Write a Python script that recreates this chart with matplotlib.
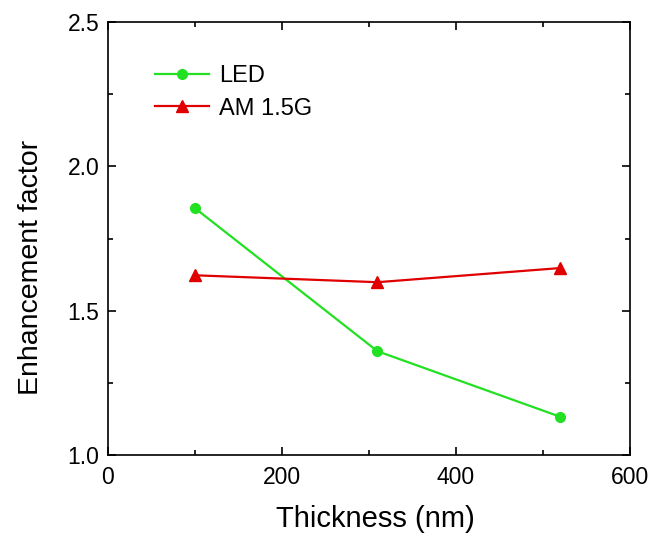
import matplotlib
matplotlib.use("Agg")
import matplotlib.pyplot as plt
from matplotlib.ticker import MultipleLocator

plt.rcParams['font.family'] = ['Liberation Sans', 'DejaVu Sans']

# thickness (nm) and enhancement factors
thickness = [100, 310, 520]
led = [1.856, 1.360, 1.133]
am15g = [1.623, 1.599, 1.648]

fig = plt.figure(figsize=(6.65, 5.38), dpi=100)
ax = fig.add_axes([0.162, 0.154, 0.785, 0.805])

ax.plot(thickness, led, color='#22e022', marker='o', markersize=7,
        linewidth=1.6, label='LED')
ax.plot(thickness, am15g, color='#e00000', marker='^', markersize=8,
        linewidth=1.6, label='AM 1.5G')

ax.set_xlim(0, 600)
ax.set_ylim(1.0, 2.5)
ax.xaxis.set_major_locator(MultipleLocator(200))
ax.xaxis.set_minor_locator(MultipleLocator(100))
ax.yaxis.set_major_locator(MultipleLocator(0.5))
ax.yaxis.set_minor_locator(MultipleLocator(0.25))
ax.yaxis.set_major_formatter(matplotlib.ticker.FormatStrFormatter('%.1f'))

ax.tick_params(which='both', direction='in', top=True, right=True)
ax.tick_params(which='major', length=6, width=1.2, labelsize=16.5)
ax.tick_params(axis='x', which='major', pad=8)
ax.tick_params(axis='y', which='major', pad=6)
ax.tick_params(which='minor', length=3.5, width=1.2)
for sp in ax.spines.values():
    sp.set_linewidth(1.2)

ax.set_xlabel('Thickness (nm)', fontsize=21)
ax.set_ylabel('Enhancement factor', fontsize=20.5)
ax.xaxis.set_label_coords(0.513, -0.115)
ax.yaxis.set_label_coords(-0.123, 0.434)

ax.legend(loc='upper left', bbox_to_anchor=(0.05, 0.95), frameon=False,
          fontsize=17, handlelength=2.3, handletextpad=0.4, labelspacing=0.45)

plt.savefig('out.png')
